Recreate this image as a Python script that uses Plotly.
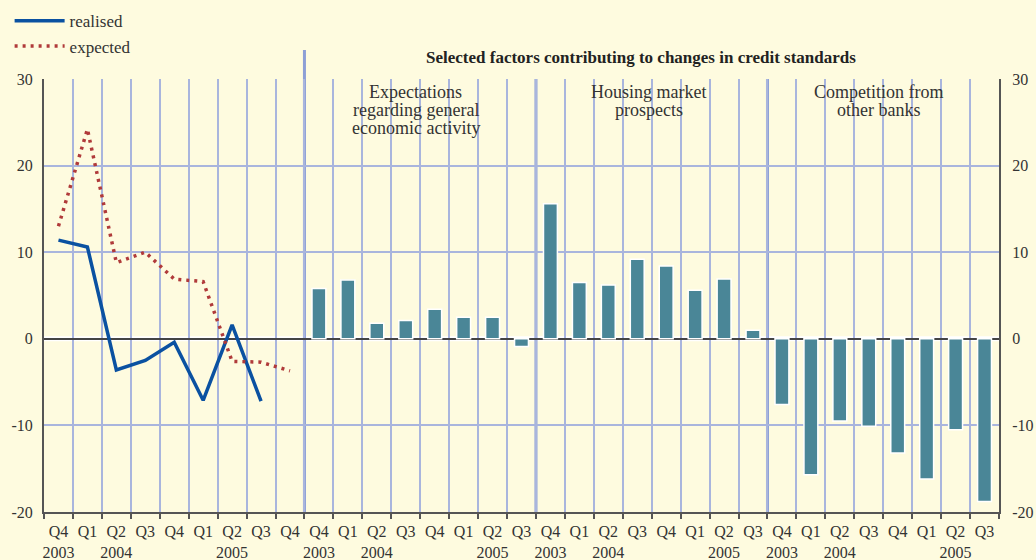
import plotly.graph_objects as go

# ---------------- data ----------------
line_quarters = ["Q4", "Q1", "Q2", "Q3", "Q4", "Q1", "Q2", "Q3", "Q4"]
line_years = ["2003", "", "2004", "", "", "", "2005", "", ""]
bar_quarters = ["Q4", "Q1", "Q2", "Q3", "Q4", "Q1", "Q2", "Q3"]
bar_years = ["2003", "", "2004", "", "", "", "2005", ""]

realised = [11.4, 10.6, -3.6, -2.5, -0.4, -7.1, 1.6, -7.2]
expected = [13.0, 24.2, 8.8, 10.0, 6.9, 6.6, -2.6, -2.7, -3.7]

factor_names = [["Expectations", "regarding general", "economic activity"],
                ["Housing market", "prospects"],
                ["Competition from", "other banks"]]
econ_activity = [5.8, 6.8, 1.8, 2.1, 3.4, 2.5, 2.5, -0.9]
housing = [15.6, 6.5, 6.2, 9.2, 8.4, 5.6, 6.9, 1.0]
competition = [-7.6, -15.7, -9.5, -10.1, -13.2, -16.2, -10.5, -18.8]

title_text = "Selected factors contributing to changes in credit standards"
y_ticks = [-20, -10, 0, 10, 20, 30]
y_tick_text = ["-20", "-10", "0", "10", "20", "30"]

# ---------------- styles ----------------
BG = "#fefbdf"
GRID = "#a9b5dd"
SEP = "#8d9fd5"
AXIS = "#555555"
BAR = "#4a8697"
FONT = "Liberation Serif"

n_line = len(line_quarters)
n_bar = len(bar_quarters)
groups = [econ_activity, housing, competition]

x_line = list(range(n_line))
x_groups = [[n_line + g * n_bar + i for i in range(n_bar)] for g in range(3)]
n_total = n_line + 3 * n_bar

tick_centers = list(range(n_total))
tick_text = []
for q, yv in zip(line_quarters, line_years):
    tick_text.append(q + ("<br>" + yv if yv else ""))
for g in range(3):
    for q, yv in zip(bar_quarters, bar_years):
        tick_text.append(q + ("<br>" + yv if yv else ""))

fig = go.Figure()

fig.add_trace(go.Scatter(x=x_line[:len(realised)], y=realised, mode="lines",
                         name="realised",
                         line=dict(color="#0a51a1", width=3.5)))
fig.add_trace(go.Scatter(x=x_line, y=expected, mode="lines", name="expected",
                         line=dict(color="#b03a3a", width=3.5, dash="3px,5px")))

for g in range(3):
    fig.add_trace(go.Bar(x=x_groups[g], y=groups[g], width=0.48,
                         marker=dict(color=BAR, line=dict(color="white", width=1.5)),
                         showlegend=False, yaxis="y2"))

shapes = []
shapes.append(dict(type="line", xref="paper", yref="y", x0=0, x1=1, y0=0, y1=0,
                   line=dict(color="white", width=5), layer="between"))
for i, xs in enumerate([n_line - 0.5, n_line + n_bar - 0.5, n_line + 2 * n_bar - 0.5]):
    shapes.append(dict(type="line", xref="x", yref="paper", x0=xs, x1=xs,
                       y0=0, y1=1.067 if i == 0 else 1,
                       line=dict(color=SEP, width=3), layer="between"))

annotations = [dict(text="<b>" + title_text + "</b>", xref="paper", yref="paper",
                    x=0.625, y=1.05, xanchor="center", yanchor="middle",
                    showarrow=False, font=dict(family=FONT, size=17, color="#222"))]
label_pos = [12.35, 20.4, 28.35]
LINE_UNITS = 18.0 / 8.65
for lines, xp in zip(factor_names, label_pos):
    for k, ln in enumerate(lines):
        annotations.append(dict(text=ln, x=xp, y=28.45 - k * LINE_UNITS, xref="x", yref="y",
                                xanchor="center", yanchor="middle", showarrow=False,
                                font=dict(family=FONT, size=18, color="#333")))

fig.update_layout(
    width=1036, height=560,
    paper_bgcolor=BG, plot_bgcolor=BG,
    margin=dict(l=44, r=37, t=79, b=48, autoexpand=False),
    font=dict(family=FONT, size=16, color="#333"),
    barmode="overlay",
    showlegend=True,
    legend=dict(x=-0.036, y=1.175, xanchor="left", yanchor="top",
                bgcolor="rgba(0,0,0,0)", font=dict(family=FONT, size=17),
                tracegroupgap=0, itemwidth=50),
    shapes=shapes,
    annotations=annotations,
    xaxis=dict(range=[-0.5, n_total - 0.5], tickmode="array",
               tickvals=tick_centers, ticktext=tick_text, ticks="",
               showgrid=False, zeroline=False,
               showline=True, linecolor=AXIS, linewidth=2,
               tickfont=dict(family=FONT, size=16, color="#333"),
               ticklabelstandoff=4,
               minor=dict(tickmode="linear", tick0=-0.5, dtick=1, showgrid=True,
                          gridcolor=GRID, gridwidth=1.5, ticks="outside",
                          ticklen=5, tickcolor=AXIS, tickwidth=1.5)),
    yaxis=dict(range=[-20, 30], tickmode="array", tickvals=y_ticks, ticktext=y_tick_text,
               showgrid=True, gridcolor=GRID, gridwidth=1.5,
               zeroline=True, zerolinecolor="#444444", zerolinewidth=2,
               showline=True, linecolor=AXIS, linewidth=2, ticks="",
               tickfont=dict(family=FONT, size=16, color="#333"), ticklabelstandoff=6),
    yaxis2=dict(range=[-20, 30], tickmode="array", tickvals=y_ticks, ticktext=y_tick_text,
                overlaying="y", side="right", showgrid=False, zeroline=False,
                showline=True, linecolor=AXIS, linewidth=2, ticks="",
                tickfont=dict(family=FONT, size=16, color="#333"), ticklabelstandoff=8),
)

fig.write_html("out.html", config={"displayModeBar": False},
               post_script="document.body.style.margin='0';document.body.style.padding='0';")
